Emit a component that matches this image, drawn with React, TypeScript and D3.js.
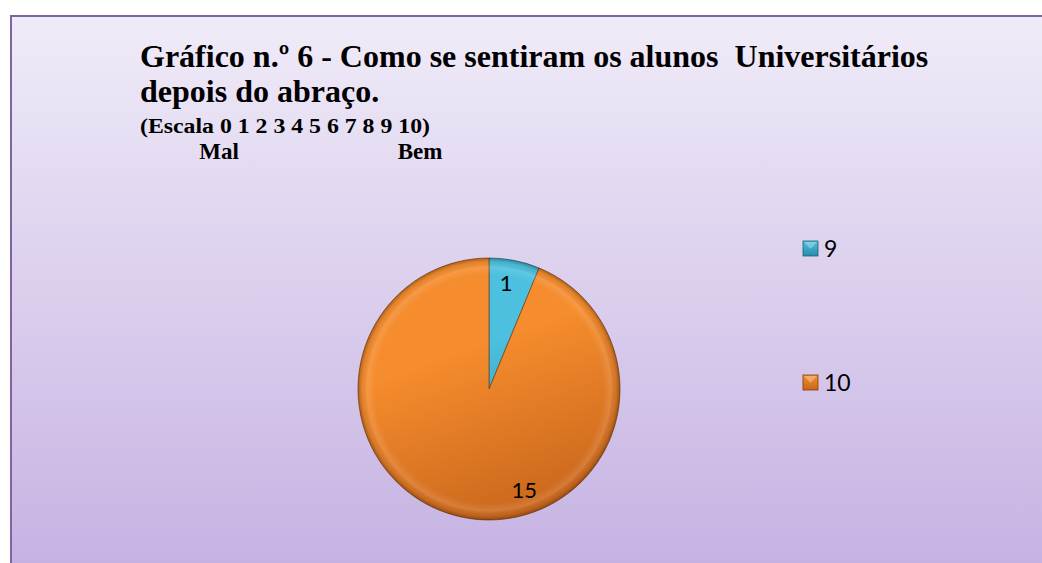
import React, { useEffect, useRef } from "react";
import * as d3 from "d3";

// chart data
const categories = ["9", "10"];
const values = [1, 15];
const titleLines = [
  "Gráfico n.º 6 - Como se sentiram os alunos  Universitários",
  "depois do abraço.",
];
const scaleLine = "(Escala 0 1 2 3 4 5 6 7 8 9 10)";
const scaleEnds = ["Mal", "Bem"];

const sliceColors = [
  { top: "#4CC0DE", bottom: "#268DAA", edge: "#1d5f73" },
  { top: "#F58C2D", bottom: "#C9661C", edge: "#7a3f0c" },
];

const serif = "'Times New Roman', 'Liberation Serif', Tinos, serif";
const sans = "Lato, 'Open Sans', sans-serif";

export default function App() {
  const ref = useRef<SVGSVGElement>(null);

  useEffect(() => {
    const W = 1042, H = 563;
    const svg = d3.select(ref.current);
    svg.selectAll("*").remove();

    const defs = svg.append("defs");

    const bg = defs.append("linearGradient").attr("id", "bg")
      .attr("x1", 0).attr("y1", 0).attr("x2", 0).attr("y2", 1);
    bg.append("stop").attr("offset", "0%").attr("stop-color", "#F0EBF8");
    bg.append("stop").attr("offset", "100%").attr("stop-color", "#C5B1E2");

    svg.append("rect").attr("width", W).attr("height", H).attr("fill", "#fff");
    svg.append("rect")
      .attr("x", 11).attr("y", 16)
      .attr("width", W + 20).attr("height", H)
      .attr("fill", "url(#bg)")
      .attr("stroke", "#8064A2")
      .attr("stroke-width", 2);

    // titles
    const title = svg.append("g").attr("fill", "#000");

    title.selectAll(".tl")
      .data(titleLines)
      .join("text")
      .attr("class", "tl")
      .attr("x", 140)
      .attr("y", (d, i) => 67 + i * 35)
      .attr("font-family", serif)
      .attr("font-weight", "bold")
      .attr("font-size", 32)
      .style("white-space", "pre")
      .text(d => d);

    title.append("text")
      .attr("x", 140).attr("y", 133)
      .attr("font-family", serif)
      .attr("font-weight", "bold")
      .attr("font-size", 20)
      .attr("textLength", 290)
      .attr("lengthAdjust", "spacingAndGlyphs")
      .text(scaleLine);

    const endX = d3.scalePoint().domain(scaleEnds).range([219, 420]);
    title.selectAll(".se")
      .data(scaleEnds)
      .join("text")
      .attr("class", "se")
      .attr("x", d => endX(d) as number)
      .attr("y", 159)
      .attr("text-anchor", "middle")
      .attr("font-family", serif)
      .attr("font-weight", "bold")
      .attr("font-size", 23)
      .text(d => d);

    // pie
    const cx = 489, cy = 389, R = 131;
    const pie = d3.pie<number>().sort(null).value(d => d);
    const arcs = pie(values);
    const arc = d3.arc<d3.PieArcDatum<number>>().innerRadius(0).outerRadius(R);

    sliceColors.forEach((c, i) => {
      const g = defs.append("linearGradient").attr("id", "sl" + i)
        .attr("gradientUnits", "userSpaceOnUse")
        .attr("x1", -R * 0.45).attr("y1", -R)
        .attr("x2", R * 0.25).attr("y2", R);
      g.append("stop").attr("offset", "0%").attr("stop-color", c.top);
      g.append("stop").attr("offset", "35%").attr("stop-color", c.top);
      g.append("stop").attr("offset", "100%").attr("stop-color", c.bottom);
    });

    const rim = defs.append("radialGradient").attr("id", "rim")
      .attr("gradientUnits", "userSpaceOnUse")
      .attr("cx", 0).attr("cy", 0).attr("r", R);
    rim.append("stop").attr("offset", "0%").attr("stop-color", "#fff").attr("stop-opacity", 0);
    rim.append("stop").attr("offset", "87%").attr("stop-color", "#fff").attr("stop-opacity", 0);
    rim.append("stop").attr("offset", "93%").attr("stop-color", "#fff").attr("stop-opacity", 0.12);
    rim.append("stop").attr("offset", "97%").attr("stop-color", "#000").attr("stop-opacity", 0.06);
    rim.append("stop").attr("offset", "100%").attr("stop-color", "#000").attr("stop-opacity", 0.3);

    const pg = svg.append("g").attr("transform", `translate(${cx},${cy})`);

    pg.selectAll("path.slice")
      .data(arcs)
      .join("path")
      .attr("class", "slice")
      .attr("d", arc)
      .attr("fill", (d, i) => `url(#sl${i})`)
      .attr("stroke", (d, i) => sliceColors[i].edge)
      .attr("stroke-opacity", 0.7)
      .attr("stroke-width", 1);

    pg.append("circle")
      .attr("r", R)
      .attr("fill", "url(#rim)")
      .style("pointer-events", "none");

    // labels
    const labelR = R * 0.82;
    const labelAngle = (d: d3.PieArcDatum<number>) =>
      d.startAngle + (d.endAngle - d.startAngle) * 0.41;
    pg.append("g")
      .selectAll("text")
      .data(arcs)
      .join("text")
      .attr("x", d => labelR * Math.sin(labelAngle(d)))
      .attr("y", d => -labelR * Math.cos(labelAngle(d)))
      .attr("text-anchor", "middle")
      .attr("dy", "0.35em")
      .attr("font-family", sans)
      .attr("font-size", 22)
      .attr("fill", "#000")
      .text(d => String(d.data));

    // legend
    const ly = d3.scalePoint().domain(categories).range([249, 383]);
    sliceColors.forEach((c, i) => {
      const g = defs.append("linearGradient").attr("id", "lg" + i)
        .attr("x1", 0).attr("y1", 0).attr("x2", 0).attr("y2", 1);
      g.append("stop").attr("offset", "0%").attr("stop-color", c.top);
      g.append("stop").attr("offset", "100%").attr("stop-color", c.bottom);
    });
    const items = svg.append("g").selectAll("g")
      .data(categories)
      .join("g")
      .attr("transform", d => `translate(803,${ly(d)})`);
    items.append("rect")
      .attr("x", 0).attr("y", -8)
      .attr("width", 15).attr("height", 15)
      .attr("fill", (d, i) => `url(#lg${i})`)
      .attr("stroke", (d, i) => sliceColors[i].edge)
      .attr("stroke-width", 0.8);
    items.append("path")
      .attr("d", "M1,-7 L14,-7 L7.5,0 Z")
      .attr("fill", "#fff")
      .attr("fill-opacity", 0.3);
    items.append("text")
      .attr("x", 21).attr("y", 0)
      .attr("dy", "0.36em")
      .attr("font-family", sans)
      .attr("font-size", 23)
      .attr("fill", "#000")
      .text(d => d);
  }, []);

  return (
    <svg
      ref={ref}
      width={1042}
      height={563}
      style={{ position: "absolute", left: 0, top: 0 }}
    />
  );
}
